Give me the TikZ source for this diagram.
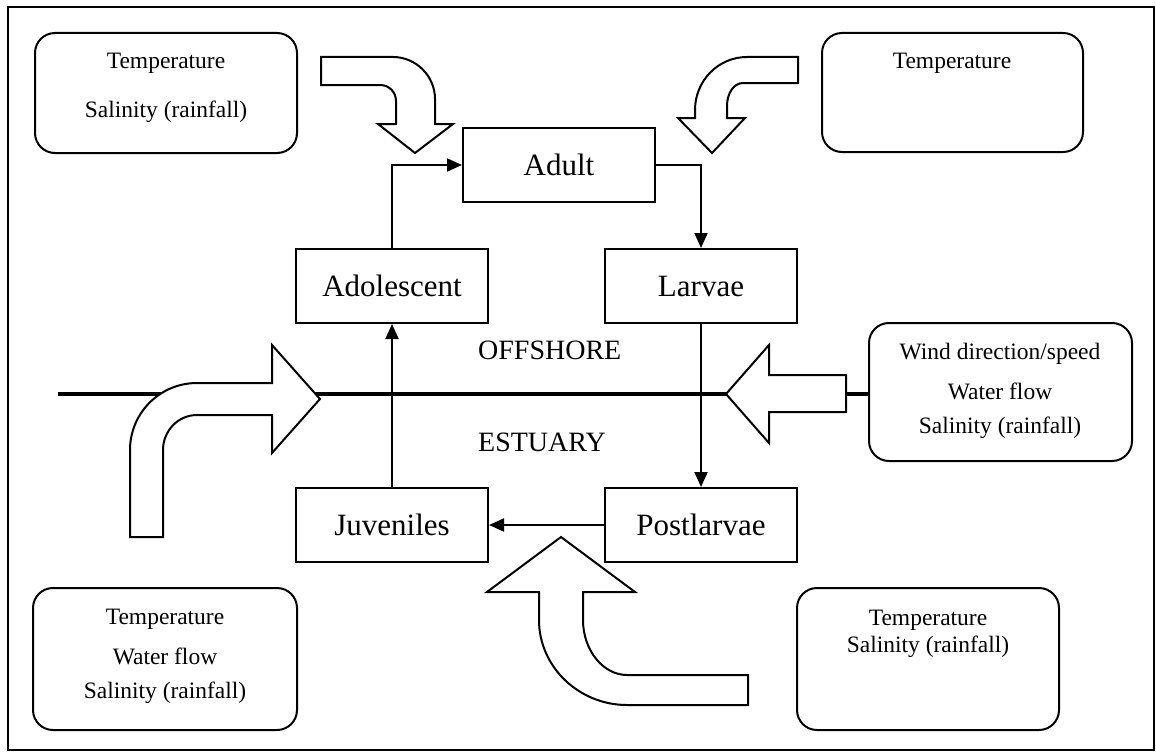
\documentclass[tikz,border=0pt]{standalone}
\usepackage{fontspec}
\setmainfont{Liberation Serif}
\usetikzlibrary{arrows.meta}
\begin{document}
\begin{tikzpicture}[x=1pt,y=-1pt,
  lifebox/.style={draw, line width=2pt, minimum width=192pt, minimum height=74pt, inner sep=0pt, font=\fontsize{31}{36}\selectfont},
  factorbox/.style={draw, line width=2pt, rounded corners=20pt, inner sep=0pt},
  factortext/.style={font=\fontsize{23.5}{28}\selectfont, inner sep=0pt},
  zonetext/.style={font=\fontsize{28}{32}\selectfont, inner sep=0pt, anchor=west},
  conn/.style={line width=2pt, -{Triangle[length=15pt,width=13pt]}},
  shoreline/.style={line width=4pt},
  bigarrow/.style={draw, fill=white, line width=2pt, line join=miter}]
\useasboundingbox (0,0) rectangle (1156,752);
\draw[line width=1.6pt] (8,7) rectangle (1154,750);

% factor boxes
\node[factorbox, minimum width=262pt, minimum height=120pt] (tlbox) at (166,93) {};
\node[factorbox, minimum width=261pt, minimum height=119pt] (trbox) at (952.5,92.5) {};
\node[factorbox, minimum width=263pt, minimum height=138pt] (rtbox) at (1000.5,392) {};
\node[factorbox, minimum width=264pt, minimum height=142pt] (blbox) at (165,659) {};
\node[factorbox, minimum width=262pt, minimum height=142pt] (brbox) at (928,659) {};

\node[factortext] (tl1) at (166,63) {Temperature};
\node[factortext] (tl2) at (166,112) {Salinity (rainfall)};
\node[factortext] (tr1) at (952,63) {Temperature};
\node[factortext] (rt1) at (1000,354) {Wind direction/speed};
\node[factortext] (rt2) at (1000,391) {Water flow};
\node[factortext] (rt3) at (1000,428) {Salinity (rainfall)};
\node[factortext] (bl1) at (165,619) {Temperature};
\node[factortext] (bl2) at (165,656) {Water flow};
\node[factortext] (bl3) at (165,693) {Salinity (rainfall)};
\node[factortext] (br1) at (928,620) {Temperature};
\node[factortext] (br2) at (928,647) {Salinity (rainfall)};

% life stages
\node[lifebox] (adult) at (559,165) {Adult};
\node[lifebox] (adolescent) at (392,286) {Adolescent};
\node[lifebox] (larvae) at (701,286) {Larvae};
\node[lifebox] (juveniles) at (392,525) {Juveniles};
\node[lifebox] (postlarvae) at (701,525) {Postlarvae};

\node[zonetext] (offshore) at (478,350) {OFFSHORE};
\node[zonetext] (estuary) at (478,442) {ESTUARY};

% shore line
\coordinate (shoreW) at (58,394);
\draw[shoreline] (shoreW) -- (shoreW -| rtbox.west);

% cycle connectors
\draw[conn] (adolescent.north) |- (adult.west);
\draw[conn] (adult.east) -| (larvae.north);
\draw[conn] (larvae.south) -- (postlarvae.north);
\draw[conn] (postlarvae.west) -- (juveniles.east);
\draw[conn] (juveniles.north) -- (adolescent.south);

% big block arrows
\draw[bigarrow] (321,57) -- (393,57) .. controls (416,57) and (435,76) .. (435,99)
  -- (435,124) -- (453,124) -- (415,153) -- (378,124) -- (396,124) -- (396,101)
  .. controls (396,92) and (389,85) .. (380,85) -- (321,85) -- cycle;
\draw[bigarrow] (798,57) -- (747,57) .. controls (718,57) and (695,81) .. (695,110)
  -- (695,118) -- (678,118) -- (712,153) -- (745,118) -- (727,118) -- (727,106)
  .. controls (727,93) and (734,83) .. (743,83) -- (798,83) -- cycle;
\draw[bigarrow] (130,537) -- (130,450) .. controls (130,413) and (160,383) .. (197,383)
  -- (272,383) -- (272,345) -- (320,399) -- (272,453) -- (272,415) -- (197,415)
  .. controls (178,415) and (163,431) .. (163,450) -- (163,537) -- cycle;
\draw[bigarrow] (846,375) -- (769,375) -- (769,345) -- (726,394) -- (769,443)
  -- (769,412) -- (846,412) -- cycle;
\draw[bigarrow] (748,675) -- (627,675) .. controls (603,675) and (583,650) .. (583,620)
  -- (583,592) -- (635,592) -- (561,537) -- (487,592) -- (539,592) -- (539,620)
  .. controls (539,667) and (579,705) .. (627,705) -- (748,705) -- cycle;
\end{tikzpicture}
\end{document}
